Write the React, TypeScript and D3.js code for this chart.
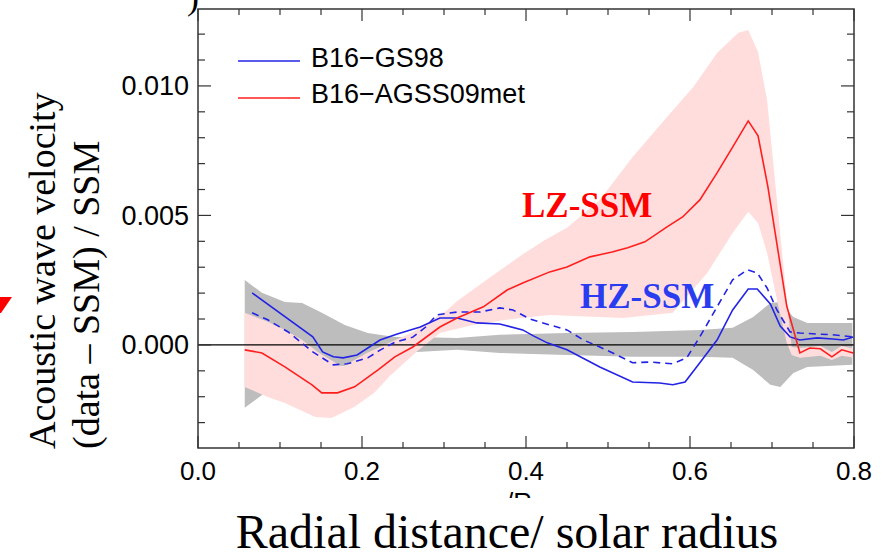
import React from 'react'
import * as d3 from 'd3'

// values are in units of 1e-3 (tick labels divide by 1000)
const blueSolid: [number, number][] = [
  [0.066, 2.01], [0.140, 0.31], [0.152, -0.27], [0.165, -0.46], [0.177, -0.50], [0.194, -0.39],
  [0.222, 0.19], [0.243, 0.42], [0.271, 0.69], [0.295, 1.04], [0.316, 1.04], [0.340, 0.85],
  [0.368, 0.81], [0.396, 0.58], [0.409, 0.35], [0.426, 0.08], [0.450, -0.19], [0.490, -0.85],
  [0.530, -1.43], [0.563, -1.47], [0.579, -1.54], [0.594, -1.43], [0.612, -0.69], [0.633, 0.19],
  [0.652, 1.35], [0.671, 2.16], [0.682, 2.16], [0.698, 1.58], [0.710, 0.73], [0.722, 0.31],
  [0.734, 0.19], [0.755, 0.27], [0.774, 0.23], [0.787, 0.19], [0.799, 0.31],
]

const blueDashed: [number, number][] = [
  [0.066, 1.24], [0.085, 0.97], [0.110, 0.50], [0.140, -0.27], [0.165, -0.77], [0.182, -0.73],
  [0.207, -0.50], [0.222, -0.20], [0.240, 0.10], [0.262, 0.30], [0.278, 0.70], [0.291, 1.16],
  [0.316, 1.27], [0.344, 1.27], [0.368, 1.43], [0.384, 1.35], [0.405, 1.00], [0.429, 0.77],
  [0.450, 0.58], [0.470, 0.19], [0.490, -0.08], [0.511, -0.39], [0.530, -0.69], [0.551, -0.66],
  [0.579, -0.73], [0.596, -0.50], [0.612, 0.31], [0.633, 1.47], [0.652, 2.51], [0.670, 2.90],
  [0.682, 2.78], [0.694, 2.20], [0.706, 1.35], [0.722, 0.50], [0.734, 0.46], [0.755, 0.42],
  [0.774, 0.39], [0.799, 0.31],
]

const redLine: [number, number][] = [
  [0.057, -0.19], [0.078, -0.31], [0.106, -0.85], [0.139, -1.54], [0.151, -1.85], [0.170, -1.85],
  [0.191, -1.62], [0.220, -0.95], [0.240, -0.46], [0.262, -0.08], [0.295, 0.69], [0.316, 1.04],
  [0.348, 1.47], [0.377, 2.12], [0.396, 2.39], [0.429, 2.82], [0.450, 3.01], [0.478, 3.40],
  [0.505, 3.59], [0.524, 3.75], [0.545, 3.98], [0.572, 4.56], [0.591, 4.94], [0.612, 5.60],
  [0.633, 6.64], [0.652, 7.64], [0.671, 8.65], [0.683, 8.07], [0.695, 6.10], [0.708, 3.50],
  [0.718, 1.50], [0.734, -0.31], [0.746, -0.12], [0.759, -0.15], [0.773, -0.46], [0.785, -0.19],
  [0.799, -0.31],
]

// [x, low, high]
const greyBand: [number, number, number][] = [
  [0.057, -2.43, 2.51], [0.078, -1.93, 2.01], [0.106, -1.40, 1.66], [0.127, -1.04, 1.62],
  [0.151, -0.89, 1.24], [0.179, -0.81, 0.77], [0.207, -0.70, 0.46], [0.240, -0.42, 0.31],
  [0.267, -0.27, 0.31], [0.316, -0.19, 0.27], [0.368, -0.31, 0.39], [0.450, -0.39, 0.46],
  [0.530, -0.46, 0.50], [0.612, -0.46, 0.58], [0.652, -0.50, 0.66], [0.677, -0.97, 1.08],
  [0.698, -1.54, 1.62], [0.710, -1.62, 1.66], [0.726, -1.08, 1.08], [0.743, -0.85, 0.85],
  [0.798, -0.77, 0.85],
]

const pinkUpper: [number, number][] = [
  [0.057, 1.24], [0.085, 0.89], [0.106, 0.58], [0.127, 0.19], [0.146, -0.27], [0.176, -0.85],
  [0.206, -0.31], [0.262, 0.50], [0.304, 1.35], [0.316, 1.70], [0.356, 2.60], [0.396, 3.50],
  [0.423, 4.05], [0.450, 4.52], [0.490, 5.60], [0.530, 7.26], [0.572, 8.80], [0.604, 9.96],
  [0.633, 11.27], [0.659, 12.05], [0.671, 12.16], [0.683, 11.31], [0.694, 9.46], [0.706, 5.60],
  [0.718, 1.74], [0.724, -0.08], [0.734, -0.12], [0.759, -0.04], [0.773, -0.27], [0.785, -0.04],
  [0.801, -0.15],
]

const pinkLower: [number, number][] = [
  [0.057, -1.62], [0.085, -2.01], [0.106, -2.24], [0.143, -2.78], [0.163, -2.82], [0.191, -2.39],
  [0.215, -1.85], [0.234, -1.20], [0.267, -0.25], [0.295, 0.46], [0.335, 0.77], [0.376, 0.97],
  [0.429, 1.16], [0.518, 1.04], [0.579, 1.24], [0.621, 2.78], [0.652, 4.32], [0.671, 5.14],
  [0.683, 4.71], [0.694, 3.55], [0.706, 1.74], [0.718, 0.08], [0.724, -0.39], [0.734, -0.50],
  [0.759, -0.42], [0.773, -0.58], [0.785, -0.42], [0.801, -0.50],
]

const xMajor = [0, 0.2, 0.4, 0.6, 0.8]
const xTickLabels = ['0.0', '0.2', '0.4', '0.6', '0.8']
const yMajor = [0, 5, 10]
const yTickLabels = ['0.000', '0.005', '0.010']

const sans = '"Liberation Sans", Arial, Helvetica, sans-serif'
const serif = '"Liberation Serif", "Times New Roman", serif'

export default function App() {
  const left = 198, right = 854, top = 9, bottom = 448
  const x = d3.scaleLinear().domain([0, 0.8]).range([left, right])
  const y = d3.scaleLinear().domain([-3.98, 12.97]).range([bottom, top])

  const line = d3.line<[number, number]>().x(d => x(d[0])).y(d => y(d[1]))
  const area = d3.area<[number, number, number]>()
    .x(d => x(d[0])).y0(d => y(d[1])).y1(d => y(d[2]))
  const pinkPath = line(pinkUpper.concat(pinkLower.slice().reverse())) + 'Z'

  const xMinor = d3.range(0, 17).map(i => i * 0.05)
  const yMinor = d3.range(-3, 13)

  return (
    <svg width={884} height={554} style={{ position: 'absolute', left: 0, top: 0, background: '#fff' }}>
      <defs>
        <clipPath id="plotClip">
          <rect x={left} y={top} width={right - left} height={bottom - top} />
        </clipPath>
        <clipPath id="fragClip">
          <rect x={480} y={480} width={80} height={18} />
        </clipPath>
      </defs>

      <g clipPath="url(#plotClip)">
        <path d={area(greyBand) || ''} fill="#bdbdbd" />
        <path d={pinkPath} fill="#ffdddd" />
        <line x1={left} x2={right} y1={y(0)} y2={y(0)} stroke="#000" strokeWidth={1.3} />
        <path d={line(blueSolid) || ''} fill="none" stroke="#2323e6" strokeWidth={1.6} />
        <path d={line(blueDashed) || ''} fill="none" stroke="#2323e6" strokeWidth={1.6} strokeDasharray="7,5" />
        <path d={line(redLine) || ''} fill="none" stroke="#ff1e1e" strokeWidth={1.6} />
      </g>

      {/* ticks */}
      {xMinor.map((t, i) => {
        const major = i % 4 === 0
        const len = major ? 12 : 6
        return (
          <g key={'xt' + i} stroke="#333" strokeWidth={1.2}>
            <line x1={x(t)} x2={x(t)} y1={bottom} y2={bottom - len} />
            <line x1={x(t)} x2={x(t)} y1={top} y2={top + len} />
          </g>
        )
      })}
      {yMinor.map(t => {
        const major = t % 5 === 0
        const len = major ? 13 : 7
        return (
          <g key={'yt' + t} stroke="#333" strokeWidth={1.2}>
            <line x1={left} x2={left + len} y1={y(t)} y2={y(t)} />
            <line x1={right} x2={right - len} y1={y(t)} y2={y(t)} />
          </g>
        )
      })}
      <rect x={left} y={top} width={right - left} height={bottom - top} fill="none" stroke="#333" strokeWidth={1.5} />

      {xMajor.map((t, i) => (
        <text key={'xl' + i} x={x(t)} y={480} textAnchor="middle" fontFamily={sans} fontSize={26} fill="#000">
          {xTickLabels[i]}
        </text>
      ))}
      {yMajor.map((t, i) => (
        <text key={'yl' + i} x={189} y={y(t) + 9.5} textAnchor="end" fontFamily={sans} fontSize={27} fill="#000">
          {yTickLabels[i]}
        </text>
      ))}

      {/* legend */}
      <line x1={238} x2={300} y1={61} y2={61} stroke="#2323e6" strokeWidth={1.5} />
      <text x={311} y={67} fontFamily={sans} fontSize={27} fill="#000">B16−GS98</text>
      <line x1={238} x2={300} y1={98} y2={98} stroke="#ff1e1e" strokeWidth={1.5} />
      <text x={311} y={103} fontFamily={sans} fontSize={27} fill="#000">B16−AGSS09met</text>

      <text x={522} y={217} fontFamily={serif} fontWeight="bold" fontSize={35} fill="#ff0000">LZ-SSM</text>
      <text x={580} y={308} fontFamily={serif} fontWeight="bold" fontSize={35} fill="#2a3cf0">HZ-SSM</text>

      {/* partly hidden original axis title */}
      <text x={506} y={511} fontFamily={sans} fontSize={26} fill="#000" clipPath="url(#fragClip)">/R</text>
      <text x={187} y={8.5} fontFamily={serif} fontSize={36} fill="#000">)</text>

      {/* axis titles */}
      <text x={507} y={548} textAnchor="middle" fontFamily={serif} fontSize={48} fill="#000">
        Radial distance/ solar radius
      </text>
      <text transform="translate(55,449) rotate(-90)" fontFamily={serif} fontSize={38} fill="#000">
        Acoustic wave velocity
      </text>
      <text transform="translate(99,449) rotate(-90)" fontFamily={serif} fontSize={38} fill="#000">
        (data – SSM) / SSM
      </text>

      <polygon points="0,297 12,297 1,313 0,313" fill="#ff0000" />
    </svg>
  )
}
